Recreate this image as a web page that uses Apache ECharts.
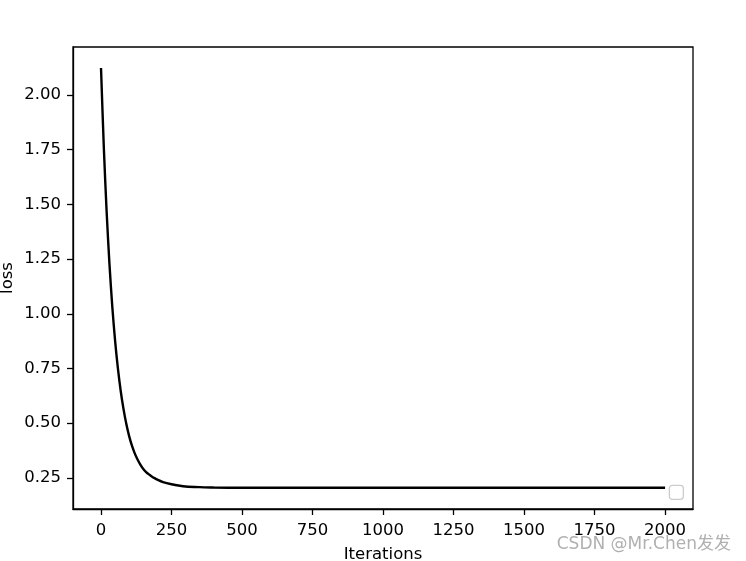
<!DOCTYPE html>
<html><head><meta charset="utf-8">
<script src="https://cdn.jsdelivr.net/npm/echarts@6/dist/echarts.min.js"></script>
<style>html,body{margin:0;padding:0;background:#fff}#c{width:746px;height:561px}</style>
</head><body><div id="c"></div>
<script>
const iterations = [0,10,20,30,40,50,60,70,80,90,100,110,120,130,140,150,160,170,180,190,200,220,250,280,300,350,400,500,750,1000,1250,1500,1750,2000];
const loss = [2.123,1.760,1.465,1.227,1.033,0.876,0.749,0.646,0.563,0.495,0.440,0.396,0.361,0.333,0.310,0.291,0.277,0.266,0.257,0.249,0.242,0.231,0.221,0.214,0.211,0.208,0.206,0.205,0.205,0.205,0.205,0.205,0.205,0.205];
const xTicks = [0,250,500,750,1000,1250,1500,1750,2000];
const yTicks = [0.25,0.50,0.75,1.00,1.25,1.50,1.75,2.00];
const xLabel = 'Iterations';
const yLabel = 'loss';
const watermark = 'CSDN @Mr.Chen发发';

const chart = echarts.init(document.getElementById('c'));
const font = 'DejaVu Sans';
chart.setOption({
  animation:false,
  grid:{left:73,right:53,top:47,bottom:52,show:true,borderColor:'#000',borderWidth:1.3,backgroundColor:'#fff',outerBoundsMode:'none',containLabel:false},
  xAxis:{type:'value',min:-99.3,max:2099,
    name:xLabel,nameLocation:'middle',nameGap:37,nameTextStyle:{fontFamily:font,fontSize:16.5,color:'#000'},
    axisLine:{show:true,onZero:false,lineStyle:{color:'#000',width:1.3}},
    axisTick:{show:true,inside:false,length:6,customValues:xTicks,lineStyle:{color:'#000',width:1.3}},
    axisLabel:{customValues:xTicks,margin:13,fontFamily:font,fontSize:16.5,color:'#000',formatter:v=>String(v)},
    splitLine:{show:false}},
  yAxis:{type:'value',min:0.108,max:2.219,
    name:yLabel,nameLocation:'middle',nameGap:57,nameRotate:90,nameMoveOverlap:false,nameTextStyle:{fontFamily:font,fontSize:16.5,color:'#000'},
    axisLine:{show:true,onZero:false,lineStyle:{color:'#000',width:1.3}},
    axisTick:{show:true,inside:false,length:6,customValues:yTicks,lineStyle:{color:'#000',width:1.3}},
    axisLabel:{customValues:yTicks,margin:12,fontFamily:font,fontSize:16.5,color:'#000',formatter:v=>v.toFixed(2)},
    splitLine:{show:false}},
  series:[{type:'line',data:iterations.map((x,i)=>[x,loss[i]]),showSymbol:false,smooth:0.3,
    lineStyle:{color:'#000',width:2.4},itemStyle:{color:'#000'}}],
  graphic:[
    {type:'rect',right:62,bottom:61,shape:{width:14,height:14,r:3},style:{fill:'#fff',stroke:'#cccccc',lineWidth:1.3}},
    {type:'text',right:15,bottom:8,style:{text:watermark,fill:'#b0b0b0',fontFamily:'DejaVu Sans, Noto Sans CJK SC',fontSize:17}}
  ]
});
</script></body></html>
